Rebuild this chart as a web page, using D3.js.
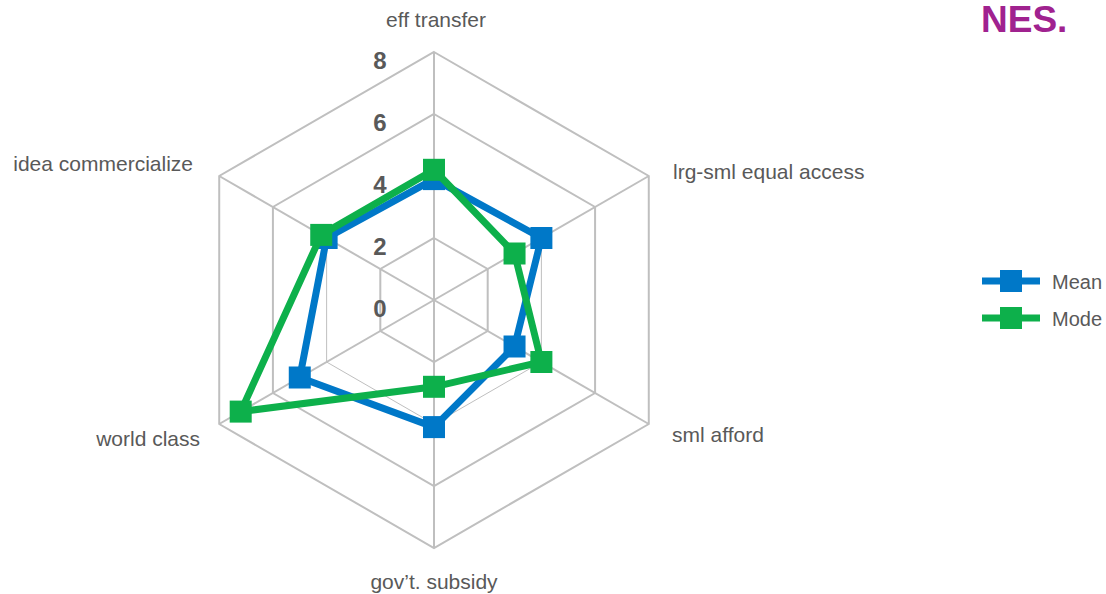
<!DOCTYPE html>
<html>
<head>
<meta charset="utf-8">
<script src="https://cdn.jsdelivr.net/npm/d3@7"></script>
<style>
  html, body { margin: 0; padding: 0; background: #fff; }
  svg { display: block; font-family: "Liberation Sans", Arial, sans-serif; }
</style>
</head>
<body>
<svg id="chart" width="1106" height="594"></svg>
<script>
const categories = ["eff transfer", "lrg-sml equal access", "sml afford", "gov\u2019t. subsidy", "world class", "idea commercialize"];
const meanValues = [3.9, 4.0, 3.0, 4.1, 5.0, 4.0];
const modeValues = [4.2, 3.0, 4.0, 2.8, 7.2, 4.2];
const seriesNames = ["Mean", "Mode"];
const tickValues = [0, 2, 4, 6, 8];

const colors = { Mean: "#0078C8", Mode: "#0DB04B" };
const series = [
  { name: seriesNames[0], values: meanValues },
  { name: seriesNames[1], values: modeValues }
];

const svg = d3.select("#chart");
const cx = 434, cy = 300;
const r = d3.scaleLinear().domain([0, 8]).range([0, 248]);
const angle = d3.scaleLinear().domain([0, categories.length]).range([0, 2 * Math.PI]);
const pt = (i, v) => [cx + r(v) * Math.sin(angle(i)), cy - r(v) * Math.cos(angle(i))];

const grid = svg.append("g");
// rings
tickValues.filter(t => t > 0).forEach(t => {
  const pts = categories.map((c, i) => pt(i, t));
  grid.append("path")
    .attr("d", d3.line()(pts) + "Z")
    .attr("fill", "none")
    .attr("stroke", "#BFBFBF")
    .attr("stroke-width", t === 4 ? 1 : 2);
});
// spokes
categories.forEach((c, i) => {
  const [x, y] = pt(i, 8);
  grid.append("line").attr("x1", cx).attr("y1", cy).attr("x2", x).attr("y2", y)
    .attr("stroke", "#BFBFBF").attr("stroke-width", 2);
});

// tick labels
svg.append("g").selectAll("text").data(tickValues).join("text")
  .attr("x", 380)
  .attr("y", d => cy - r(d) + 8)
  .attr("dominant-baseline", "central")
  .attr("text-anchor", "middle")
  .attr("font-size", 24)
  .attr("font-weight", "bold")
  .attr("fill", "#595959")
  .text(d => d);

// category labels
const labelPos = [
  { x: 436, y: 27, anchor: "middle" },
  { x: 673, y: 179, anchor: "start" },
  { x: 672, y: 442, anchor: "start" },
  { x: 434, y: 589, anchor: "middle" },
  { x: 200, y: 446, anchor: "end" },
  { x: 193, y: 171, anchor: "end" }
];
svg.append("g").selectAll("text").data(categories).join("text")
  .attr("x", (d, i) => labelPos[i].x)
  .attr("y", (d, i) => labelPos[i].y)
  .attr("text-anchor", (d, i) => labelPos[i].anchor)
  .attr("font-size", 21)
  .attr("fill", "#595959")
  .text(d => d);

// series
const ms = 22;
series.forEach(s => {
  const g = svg.append("g");
  const pts = s.values.map((v, i) => pt(i, v));
  g.append("path")
    .attr("d", d3.line()(pts) + "Z")
    .attr("fill", "none")
    .attr("stroke", colors[s.name])
    .attr("stroke-width", 7)
    .attr("stroke-linejoin", "round");
  g.selectAll("rect").data(pts).join("rect")
    .attr("x", d => d[0] - ms / 2)
    .attr("y", d => d[1] - ms / 2)
    .attr("width", ms).attr("height", ms)
    .attr("fill", colors[s.name]);
});

// legend
const legend = svg.append("g");
series.forEach((s, i) => {
  const y = 281 + i * 37;
  legend.append("line").attr("x1", 982).attr("x2", 1040).attr("y1", y).attr("y2", y)
    .attr("stroke", colors[s.name]).attr("stroke-width", 7);
  legend.append("rect").attr("x", 1000).attr("y", y - 11).attr("width", 22).attr("height", 22)
    .attr("fill", colors[s.name]);
  legend.append("text").attr("x", 1052).attr("y", y + 8)
    .attr("font-size", 20).attr("fill", "#595959").text(s.name);
});

// brand
svg.append("text").attr("x", 981).attr("y", 32)
  .attr("font-size", 37).attr("font-weight", "bold").attr("fill", "#A0228F")
  .text("NES.");
</script>
</body>
</html>
